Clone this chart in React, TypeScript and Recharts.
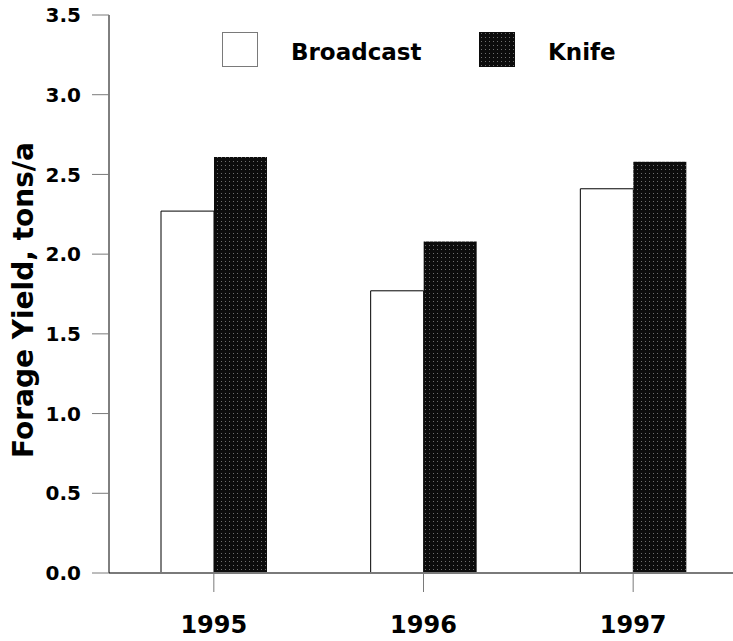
import { Bar, BarChart, Label, Legend, XAxis, YAxis } from "recharts";

const years = ["1995", "1996", "1997"];
const broadcast = [2.27, 1.77, 2.41];
const knife = [2.61, 2.08, 2.58];
const yTicks = [0, 0.5, 1, 1.5, 2, 2.5, 3, 3.5];
const seriesNames = ["Broadcast", "Knife"];

const data = years.map((year, i) => ({ year, broadcast: broadcast[i], knife: knife[i] }));

const FONT = "'DejaVu Sans', Verdana, sans-serif";
const GREY = "#7a7a7a";

const DotPattern = ({ id }: { id: string }) => (
  <pattern id={id} width={4} height={4} patternUnits="userSpaceOnUse">
    <rect width={4} height={4} fill="#0c0c0c" />
    <rect x={1} y={1} width={1} height={1} fill="#6e6e6e" />
  </pattern>
);

// legend drawn at fixed spots above the bars
const renderLegend = () => (
  <svg width={738} height={90} style={{ display: "block" }}>
    <defs>
      <DotPattern id="knifeDotsLegend" />
    </defs>
    <rect x={222.5} y={32.5} width={35} height={34} fill="#fff" stroke={GREY} strokeWidth={1} />
    <text x={291} y={60} fontFamily={FONT} fontWeight="bold" fontSize={23} fill="#000">
      {seriesNames[0]}
    </text>
    <rect x={479} y={32} width={36} height={35} fill="url(#knifeDotsLegend)" />
    <text x={548} y={60} fontFamily={FONT} fontWeight="bold" fontSize={23} fill="#000">
      {seriesNames[1]}
    </text>
  </svg>
);

const YLabel = () => (
  <text
    x={0}
    y={0}
    transform="translate(33, 300) rotate(-90)"
    textAnchor="middle"
    fontFamily={FONT}
    fontWeight="bold"
    fontSize={28}
    fill="#000"
  >
    Forage Yield, tons/a
  </text>
);

export default function App() {
  return (
    <div style={{ position: "absolute", left: 0, top: 0, width: 733, height: 641, overflow: "hidden", background: "#fff" }}>
      <BarChart width={738} height={641} data={data} margin={{ top: 15, right: 0, bottom: 0, left: 0 }} barGap={0} barSize={53}>
        <defs>
          <DotPattern id="knifeDots" />
        </defs>
        <XAxis
          dataKey="year"
          height={68}
          axisLine={{ stroke: GREY, strokeWidth: 2 }}
          tickLine={{ stroke: GREY, strokeWidth: 1 }}
          tickSize={19}
          tickMargin={24}
          tick={{ fill: "#000", fontFamily: FONT, fontWeight: "bold", fontSize: 24 }}
        />
        <YAxis
          width={109}
          domain={[0, 3.5]}
          ticks={yTicks}
          interval={0}
          tickFormatter={(v: number) => v.toFixed(1)}
          axisLine={{ stroke: "#000", strokeWidth: 1 }}
          tickLine={{ stroke: GREY, strokeWidth: 1 }}
          tickSize={17}
          tickMargin={11}
          tick={{ fill: "#000", fontFamily: FONT, fontWeight: "bold", fontSize: 20 }}
        >
          <Label content={<YLabel />} />
        </YAxis>
        <Legend
          layout="horizontal"
          verticalAlign="middle"
          align="center"
          content={renderLegend}
          wrapperStyle={{ position: "absolute", left: 0, top: 0, width: 738, height: 90 }}
        />
        <Bar dataKey="broadcast" name={seriesNames[0]} fill="#fff" stroke="#000" strokeWidth={1} isAnimationActive={false} />
        <Bar dataKey="knife" name={seriesNames[1]} fill="url(#knifeDots)" isAnimationActive={false} />
      </BarChart>
    </div>
  );
}
